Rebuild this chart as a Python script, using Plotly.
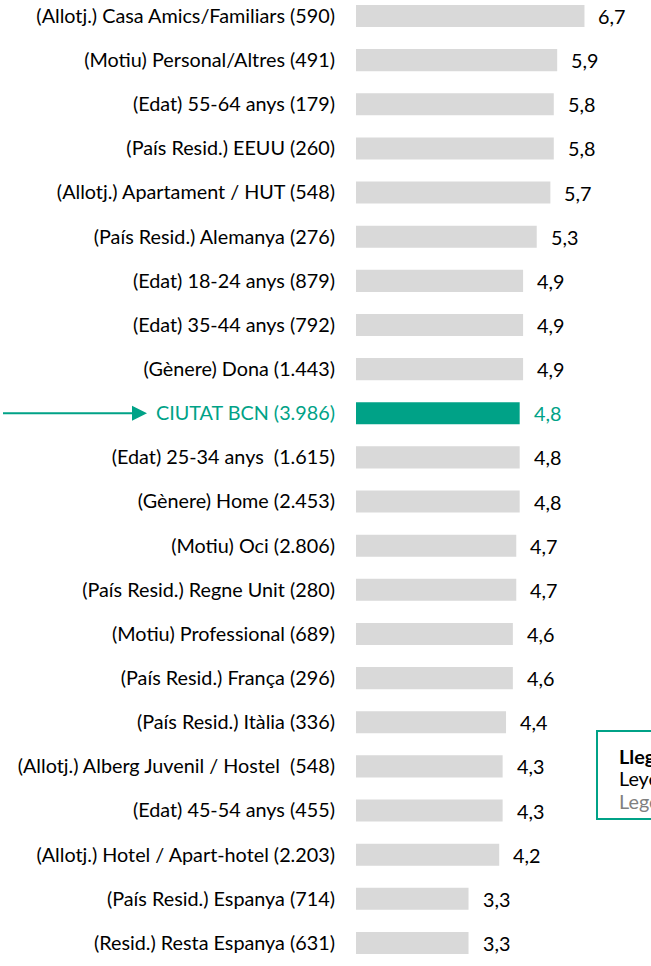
import plotly.graph_objects as go

categories = [
    "(Allotj.) Casa Amics/Familiars (590)",
    "(Motiu) Personal/Altres (491)",
    "(Edat) 55-64 anys (179)",
    "(País Resid.) EEUU (260)",
    "(Allotj.) Apartament / HUT (548)",
    "(País Resid.) Alemanya (276)",
    "(Edat) 18-24 anys (879)",
    "(Edat) 35-44 anys (792)",
    "(Gènere) Dona (1.443)",
    "CIUTAT BCN (3.986)",
    "(Edat) 25-34 anys\u00a0 (1.615)",
    "(Gènere) Home (2.453)",
    "(Motiu) Oci (2.806)",
    "(País Resid.) Regne Unit (280)",
    "(Motiu) Professional (689)",
    "(País Resid.) França (296)",
    "(País Resid.) Itàlia (336)",
    "(Allotj.) Alberg Juvenil / Hostel\u00a0 (548)",
    "(Edat) 45-54 anys (455)",
    "(Allotj.) Hotel / Apart-hotel (2.203)",
    "(País Resid.) Espanya (714)",
    "(Resid.) Resta Espanya (631)",
]
values = [6.7, 5.9, 5.8, 5.8, 5.7, 5.3, 4.9, 4.9, 4.9, 4.8, 4.8, 4.8, 4.7, 4.7,
          4.6, 4.6, 4.4, 4.3, 4.3, 4.2, 3.3, 3.3]
highlight = "CIUTAT BCN (3.986)"
legend_lines = ["Llegenda", "Leyenda", "Legend"]

TEAL = "#00A287"
GREY = "#D9D9D9"
FONT = "Lato"
FS = 19.8

W, H = 651, 966
L = 356

def px(xr):  # reference x pixel -> paper x
    return (xr - L) / (W - L)

def py(yr):  # reference y pixel -> paper y
    return 1 - yr / H

idx = list(range(len(categories)))
colors = [TEAL if c == highlight else GREY for c in categories]
ticktext = [f'<span style="color:{TEAL}">{c}</span>' if c == highlight else c
            for c in categories]

fig = go.Figure(go.Bar(
    x=values, y=idx, orientation="h", marker=dict(color=colors, line_width=0),
    width=0.5, hoverinfo="skip",
))

annotations = []
for i, v, c in zip(idx, values, categories):
    annotations.append(dict(
        x=v, y=i, xref="x", yref="y", text=f"{v:.1f}".replace(".", ","),
        showarrow=False, xanchor="left", xshift=12,
        font=dict(family=FONT, size=FS, color=TEAL if c == highlight else "#000000"),
    ))

hi = categories.index(highlight)
annotations.append(dict(
    x=px(147), y=hi, xref="paper", yref="y", text=" ",
    showarrow=True, ax=-165, ay=0, arrowhead=2, arrowsize=1.5, arrowwidth=2,
    arrowcolor=TEAL, standoff=0,
))

leg_y = [756, 778, 801]
for t, yy, col, bold in zip(legend_lines, leg_y, ["#000000", "#000000", "#808080"],
                            [True, False, False]):
    annotations.append(dict(
        x=px(617), y=py(yy), xref="paper", yref="paper",
        text=f"<b>{t}</b>" if bold else t, showarrow=False,
        xanchor="left", yanchor="middle",
        font=dict(family=FONT, size=FS, color=col),
    ))

px_per_row = 44.14
y_top = -16 / px_per_row
y_bot = y_top + H / px_per_row

fig.update_layout(
    width=W, height=H, margin=dict(l=L, r=0, t=0, b=0),
    plot_bgcolor="white", paper_bgcolor="white",
    showlegend=False,
    xaxis=dict(range=[0, (W - L) / 34.1], visible=False, fixedrange=True),
    yaxis=dict(range=[y_bot, y_top], tickvals=idx, ticktext=ticktext,
               showgrid=False, zeroline=False, showline=False, ticks="",
               ticklabelstandoff=20, ticklabeloverflow="allow",
               tickfont=dict(family=FONT, size=FS, color="#000000")),
    annotations=annotations,
    shapes=[dict(type="rect", xref="paper", yref="paper",
                 x0=px(597), x1=1.3, y0=py(731), y1=py(819),
                 line=dict(color=TEAL, width=2), fillcolor="rgba(0,0,0,0)")],
)

fig.write_html("out.html", config={"displayModeBar": False},
               post_script="document.body.style.margin='0';")
